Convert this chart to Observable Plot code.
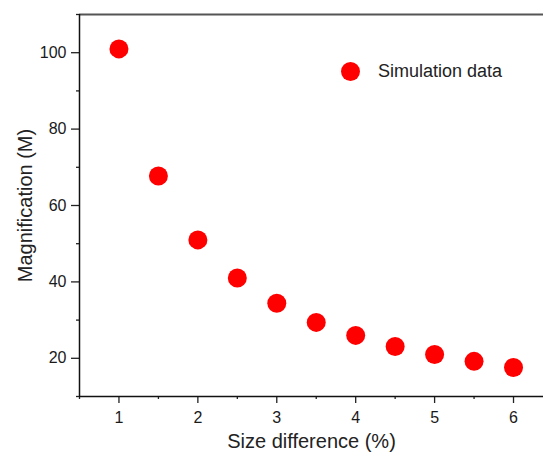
<!DOCTYPE html>
<html>
<head>
<meta charset="utf-8">
<script src="https://cdn.jsdelivr.net/npm/d3@7"></script>
<script src="https://cdn.jsdelivr.net/npm/@observablehq/plot@0.6"></script>
<style>
  html, body { margin: 0; padding: 0; background: #fff; }
  #wrap { position: relative; width: 543px; height: 455px; font-family: "Liberation Sans", Arial, sans-serif; }
  #legend { position: absolute; left: 341px; top: 61px; height: 21px; display: flex; align-items: center; font-size: 18px; color: #222; }
  #legend .sw { width: 19px; height: 19px; border-radius: 50%; background: #ff0000; margin-right: 18px; flex: none; }
</style>
</head>
<body>
<div id="wrap">
  <div id="legend"><span class="sw"></span><span>Simulation data</span></div>
</div>
<script>
const sizeDiff = [1, 1.5, 2, 2.5, 3, 3.5, 4, 4.5, 5, 5.5, 6];
const magnification = [101.0, 67.7, 51.0, 41.0, 34.4, 29.4, 26.0, 23.1, 21.0, 19.2, 17.6];
const xMajorTicks = [1, 2, 3, 4, 5, 6];
const xMinorTicks = [0.5, 1.5, 2.5, 3.5, 4.5, 5.5];
const yMajorTicks = [20, 40, 60, 80, 100];
const yMinorTicks = [10, 30, 50, 70, 90, 110];
const xLabel = "Size difference (%)";
const yLabel = "Magnification (M)";
const seriesName = "Simulation data";

const data = sizeDiff.map((x, i) => ({x, y: magnification[i]}));

const chart = Plot.plot({
  width: 543,
  height: 455,
  marginLeft: 79,
  marginRight: 0,
  marginTop: 14,
  marginBottom: 59,
  style: {fontFamily: "Liberation Sans, Arial, sans-serif", fontSize: "15px", color: "#222", background: "#fff", overflow: "visible"},
  x: {domain: [0.5, 6.38]},
  y: {domain: [10, 110]},
  marks: [
    Plot.axisX(xMinorTicks, {tickSize: 3, tickFormat: () => "", label: null, strokeWidth: 1.3}),
    Plot.axisX(xMajorTicks, {tickSize: 7, tickPadding: 8, fontSize: 16, label: xLabel, labelAnchor: "center", labelOffset: 51, labelArrow: "none", strokeWidth: 1.3}),
    Plot.axisY(yMinorTicks, {tickSize: 3, tickFormat: () => "", label: null, strokeWidth: 1.3}),
    Plot.axisY(yMajorTicks, {tickSize: 8, tickPadding: 5, fontSize: 16, label: yLabel, labelAnchor: "center", labelOffset: 62, labelArrow: "none", strokeWidth: 1.3}),
    Plot.ruleY([110], {stroke: "#555", strokeWidth: 2}),
    Plot.ruleX([0.5], {stroke: "#111", strokeWidth: 1.5}),
    Plot.ruleY([10], {stroke: "#111", strokeWidth: 1.5}),
    Plot.dot(data, {x: "x", y: "y", r: 9.5, fill: "#ff0000", stroke: "none", title: () => seriesName})
  ]
});
document.getElementById("wrap").prepend(chart);
chart.querySelectorAll("g[aria-label='x-axis tick label'], g[aria-label='y-axis tick label']").forEach(g => { g.setAttribute("font-size", "16"); g.style.fontSize = "16px"; g.setAttribute("fill", "#1a1a1a"); });
chart.querySelectorAll("g[aria-label='x-axis label'] text, g[aria-label='y-axis label'] text").forEach(t => t.setAttribute("font-size", "20"));
</script>
</body>
</html>
